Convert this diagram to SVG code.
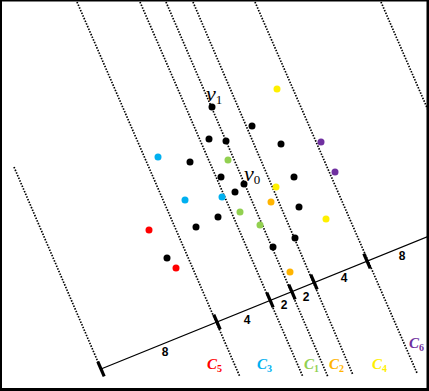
<svg xmlns="http://www.w3.org/2000/svg" width="429" height="391" viewBox="0 0 429 391">
<style>
.dl{stroke:#000;stroke-width:1.7;stroke-dasharray:1.5 1.4;fill:none}
.tk{stroke:#000;stroke-width:3.2;stroke-linecap:butt}
.ax{stroke:#000;stroke-width:1.3}
.num{font-family:"Liberation Sans",Arial,sans-serif;font-weight:bold;font-size:12px;text-anchor:middle;fill:#000}
.v{font-family:"Liberation Serif","Times New Roman",serif;font-style:italic;font-size:22px;fill:#000}
.vs{font-family:"Liberation Serif","Times New Roman",serif;font-size:13px;fill:#000}
.cl{font-family:"Liberation Serif","Times New Roman",serif;font-style:italic;font-weight:bold;font-size:15px}
.cs{font-family:"Liberation Serif","Times New Roman",serif;font-weight:bold;font-size:10px}
.k{fill:#000}.cy{fill:#00B0F0}.gr{fill:#92D050}.ye{fill:#FFF000}.or{fill:#FFB400}.rd{fill:#FF0000}.pu{fill:#7030A0}
</style>
<rect x="0" y="0" width="429" height="391" fill="#000"/>
<rect x="2" y="1.5" width="424.5" height="386.5" fill="#fff"/>
<g id="connectors">
<line class="dl" x1="14" y1="167" x2="101" y2="369"/>
<line class="dl" x1="77" y1="2" x2="240" y2="377"/>
<line class="dl" x1="140" y1="2" x2="303" y2="377"/>
<line class="dl" x1="166" y1="2" x2="328" y2="377"/>
<line class="dl" x1="193" y1="2" x2="353" y2="375"/>
<line class="dl" x1="255" y1="2" x2="417" y2="373"/>
<line class="dl" x1="381" y1="2" x2="428" y2="110"/>
<line class="ax" x1="101" y1="369" x2="429" y2="236"/>
<line class="tk" x1="97.8" y1="361.7" x2="104.2" y2="376.3"/>
<line class="tk" x1="213.8" y1="314.7" x2="220.2" y2="329.3"/>
<line class="tk" x1="266.8" y1="292.7" x2="273.2" y2="307.3"/>
<line class="tk" x1="288.8" y1="284.7" x2="295.2" y2="299.3"/>
<line class="tk" x1="310.8" y1="274.7" x2="317.2" y2="289.3"/>
<line class="tk" x1="363.8" y1="253.7" x2="370.2" y2="268.3"/>
</g>
<g id="scale-labels">
<text class="num" x="165" y="356">8</text>
<text class="num" x="247" y="324">4</text>
<text class="num" x="284" y="309">2</text>
<text class="num" x="306" y="301">2</text>
<text class="num" x="344" y="282">4</text>
<text class="num" x="402" y="260">8</text>
</g>
<g id="vertex-labels">
<text x="206" y="101"><tspan class="v">v</tspan><tspan class="vs" dy="3">1</tspan></text>
<text x="244" y="181"><tspan class="v">v</tspan><tspan class="vs" dy="3">0</tspan></text>
</g>
<g id="class-labels">
<text x="207" y="369" class="rd"><tspan class="cl">C</tspan><tspan class="cs" dy="3">5</tspan></text>
<text x="257" y="369" class="cy"><tspan class="cl">C</tspan><tspan class="cs" dy="3">3</tspan></text>
<text x="304" y="369" class="gr"><tspan class="cl">C</tspan><tspan class="cs" dy="3">1</tspan></text>
<text x="329" y="369" class="or"><tspan class="cl">C</tspan><tspan class="cs" dy="3">2</tspan></text>
<text x="372" y="369" class="ye"><tspan class="cl">C</tspan><tspan class="cs" dy="3">4</tspan></text>
<text x="409" y="348" class="pu"><tspan class="cl">C</tspan><tspan class="cs" dy="3">6</tspan></text>
</g>
<g id="points">
<g id="black-points" class="k">
<circle cx="212" cy="107" r="3.5"/>
<circle cx="209" cy="139" r="3.5"/>
<circle cx="226" cy="141" r="3.5"/>
<circle cx="252" cy="126" r="3.5"/>
<circle cx="190" cy="162" r="3.5"/>
<circle cx="221" cy="177" r="3.5"/>
<circle cx="244" cy="184" r="3.5"/>
<circle cx="235" cy="192" r="3.5"/>
<circle cx="281" cy="144" r="3.5"/>
<circle cx="294" cy="177" r="3.5"/>
<circle cx="299" cy="207" r="3.5"/>
<circle cx="218" cy="217" r="3.5"/>
<circle cx="196" cy="227" r="3.5"/>
<circle cx="167" cy="258" r="3.5"/>
<circle cx="273" cy="247" r="3.5"/>
<circle cx="295" cy="238" r="3.5"/>
</g>
<g id="cyan-points" class="cy">
<circle cx="158" cy="157" r="3.5"/>
<circle cx="185" cy="200" r="3.5"/>
<circle cx="222" cy="197" r="3.5"/>
</g>
<g id="green-points" class="gr">
<circle cx="228" cy="160" r="3.5"/>
<circle cx="240" cy="212" r="3.5"/>
<circle cx="260" cy="225" r="3.5"/>
</g>
<g id="yellow-points" class="ye">
<circle cx="277" cy="89" r="3.5"/>
<circle cx="276" cy="187" r="3.5"/>
<circle cx="326" cy="219" r="3.5"/>
</g>
<g id="orange-points" class="or">
<circle cx="271" cy="202" r="3.5"/>
<circle cx="290" cy="272" r="3.5"/>
</g>
<g id="red-points" class="rd">
<circle cx="149" cy="230" r="3.5"/>
<circle cx="176" cy="268" r="3.5"/>
</g>
<g id="purple-points" class="pu">
<circle cx="321" cy="142" r="3.5"/>
<circle cx="335" cy="172" r="3.5"/>
</g>
</g>
</svg>
